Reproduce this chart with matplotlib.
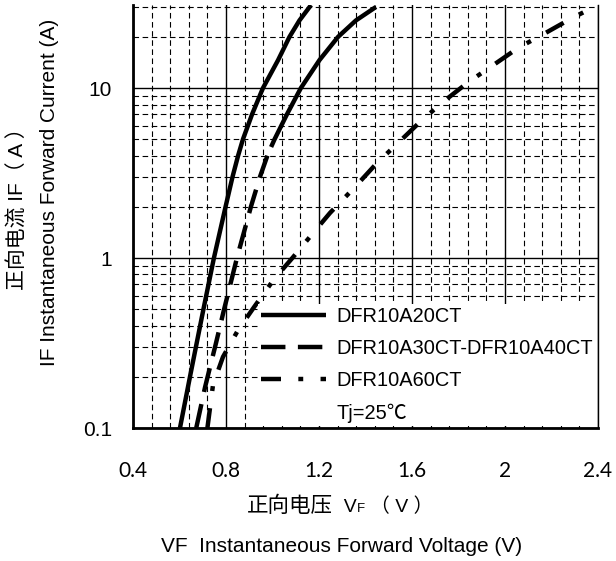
import numpy as np
import matplotlib
matplotlib.use('Agg')
import matplotlib.pyplot as plt
from matplotlib.ticker import FixedLocator, NullFormatter, FixedFormatter

FONTS = ['Liberation Sans', 'Noto Sans CJK SC']
plt.rcParams['font.family'] = FONTS

# curves (VF in volts, IF in amps)
vf_20 = [0.602, 0.645, 0.703, 0.748, 0.798, 0.828, 0.852, 0.873, 0.912, 0.959, 1.024, 1.073, 1.116, 1.166]
if_20 = [0.1, 0.2, 0.5, 1.0, 2.0, 3.0, 4.0, 5.0, 7.0, 10.0, 14.6, 20.0, 25.0, 30.8]

vf_30 = [0.672, 0.710, 0.757, 0.791, 0.847, 0.907, 0.946, 0.978, 0.994, 1.009, 1.062, 1.122,
         1.202, 1.282, 1.359, 1.445]
if_30 = [0.1, 0.174, 0.316, 0.494, 1.0, 2.0, 3.0, 4.0, 4.5, 5.0, 7.0, 10.0,
         14.6, 20.0, 25.0, 30.0]
split_30 = 8  # from 4.5 A upward the datasheet draws this curve solid

vf_60 = [0.72, 0.744, 0.787, 0.852, 0.921, 1.004, 1.088, 1.174, 1.247, 1.355, 1.449,
         1.540, 1.634, 1.733, 1.841, 1.948, 2.056, 2.172, 2.288, 2.34]
if_60 = [0.1, 0.179, 0.262, 0.377, 0.515, 0.742, 1.01, 1.40, 1.84, 2.62, 3.62,
         4.75, 6.31, 8.28, 10.8, 13.6, 17.2, 21.0, 25.8, 28.0]

labels = ['DFR10A20CT', 'DFR10A30CT-DFR10A40CT', 'DFR10A60CT']
note = 'Tj=25℃'

x_major = [0.4, 0.8, 1.2, 1.6, 2.0, 2.4]
x_labels = ['0.4', '0.8', '1.2', '1.6', '2', '2.4']
x_minor = np.arange(0.48, 2.4, 0.08)
y_major = [0.1, 1, 10]
y_labels = ['0.1', '1', '10']
y_minor = [0.2, 0.3, 0.4, 0.5, 0.6, 0.7, 0.8, 0.9, 2, 3, 4, 5, 6, 7, 8, 9, 20, 30]

fig = plt.figure(figsize=(6.16, 5.61), dpi=100)
ax = fig.add_axes([133/616, 1-428/561, 465/616, 423/561])

lw = 3.2
ax.plot(vf_20, if_20, color='black', lw=lw, solid_capstyle='butt', label=labels[0], zorder=3)
ax.plot(vf_30[:split_30], if_30[:split_30], color='black', lw=lw, dashes=(5.5, 2.8),
        dash_capstyle='butt', label=labels[1], zorder=3)
ax.plot(vf_30[split_30:], if_30[split_30:], color='black', lw=lw, solid_capstyle='butt', zorder=3)
ax.plot(vf_60, if_60, color='black', lw=lw, dashes=(4.5, 3.9, 1.1, 3.9), dash_capstyle='butt',
        label=labels[2], zorder=3)
ax.plot([], [], color='none', label=note)

ax.set_yscale('log')
ax.set_xlim(0.4, 2.4)
ax.set_ylim(0.1, 30.8)

ax.xaxis.set_major_locator(FixedLocator(x_major))
ax.xaxis.set_major_formatter(FixedFormatter(x_labels))
ax.xaxis.set_minor_locator(FixedLocator(x_minor))
ax.yaxis.set_major_locator(FixedLocator(y_major))
ax.yaxis.set_major_formatter(FixedFormatter(y_labels))
ax.yaxis.set_minor_locator(FixedLocator(y_minor))
ax.yaxis.set_minor_formatter(NullFormatter())
ax.xaxis.set_minor_formatter(NullFormatter())

ax.grid(which='major', color='black', lw=1.0, ls='-')
ax.grid(which='minor', color='black', lw=0.8, ls=(0, (5, 3.2)))
ax.set_axisbelow(True)

ax.tick_params(which='both', length=0)
ax.tick_params(axis='x', pad=24, labelsize=15)
ax.tick_params(axis='y', pad=15, labelsize=15)
for t in ax.get_xticklabels():
    t.set_fontfamily('Lato')

ax.spines['top'].set_visible(False)
ax.spines['left'].set_linewidth(2)
ax.spines['bottom'].set_linewidth(2)
ax.spines['right'].set_linewidth(1)

leg = ax.legend(loc='lower right', fontsize=14.4, handlelength=3.25, handletextpad=0.5,
                labelspacing=0.66, borderpad=0.15, borderaxespad=0.1,
                fancybox=False, framealpha=1, edgecolor='none', facecolor='white')
leg.set_zorder(4)

# x-axis caption, line 1 has a subscript F, built from pieces
renderer = fig.canvas.get_renderer()
parts = [('正向电压', 15.5), ('  V', 14), ('F', 9.5), (' （ V ）', 14)]
texts = [fig.text(0, (561 - 512) / 561, s, fontsize=fs, ha='left', va='baseline')
         for s, fs in parts]
widths = [t.get_window_extent(renderer).width for t in texts]
x = 340 - sum(widths) / 2
for t, w in zip(texts, widths):
    t.set_x(x / 616)
    x += w

fig.text(342/616, (561-552)/561, 'VF  Instantaneous Forward Voltage (V)', ha='center', va='baseline', fontsize=15)
fig.text(18/616, (561-204)/561, '正向电流 IF（ A ）', rotation=90, ha='center', va='center', fontsize=15)
fig.text(50/616, (561-192)/561, 'IF Instantaneous Forward Current (A)', rotation=90, ha='center', va='center', fontsize=15)

fig.savefig('out.png', dpi=100)
